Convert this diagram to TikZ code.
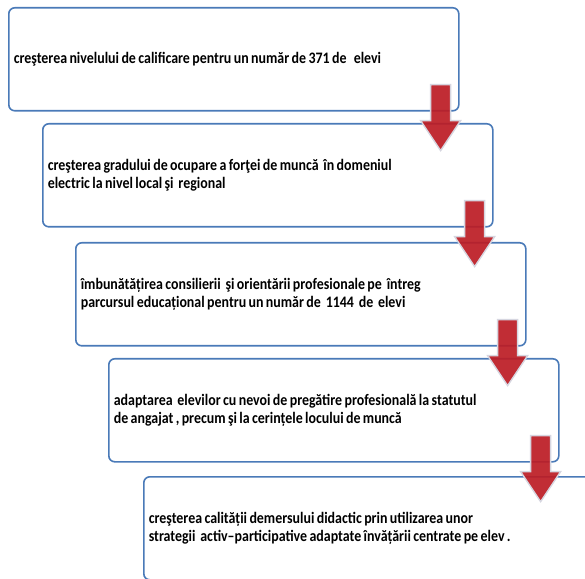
\documentclass[tikz,border=0pt]{standalone}
\usepackage{fontspec}
\setmainfont{Carlito}
\newfontfamily\stepfont[FakeStretch=0.87]{Carlito}
\newcommand{\steptext}{\stepfont\bfseries\fontsize{16}{18}\selectfont}
\newcommand{\tightspaces}{\spaceskip=2.4pt plus 1pt\relax\xspaceskip=2.4pt plus 1pt\relax}
\usepackage{tikz}

\definecolor{boxblue}{RGB}{74,122,184}
\definecolor{arrowred}{RGB}{188,28,36}
\definecolor{arrowrim}{RGB}{214,214,224}

\tikzset{
  stepbox/.style={draw=boxblue, line width=1.6pt, rounded corners=6pt, fill=white,
    anchor=north west, minimum width=450pt, minimum height=103pt,
    text width=440pt, inner xsep=5pt, align=left, font=\steptext,
    execute at begin node=\tightspaces},
  redarrow/.style={fill=arrowred, fill opacity=0.92, draw=arrowrim, line width=1.4pt, line join=miter}
}

\begin{document}
\begin{tikzpicture}[x=1pt, y=1pt]
      \useasboundingbox (0,0) rectangle (585,578);
      \clip (0,0) rectangle (585,578);

      % the five steps
      \node[stepbox] (b1) at (8,571) {creşterea nivelului de calificare pentru un număr de 371 de~~~elevi};
      \node[stepbox] (b2) at (42,455) {creşterea gradului de ocupare a forţei de muncă~ în domeniul\\ electric la nivel local şi~ regional};
      \node[stepbox] (b3) at (75,336) {îmbunătățirea consilierii~ şi orientării profesionale pe~ întreg\\ parcursul educațional pentru un număr de~ 1144~ de~ elevi};
      \node[stepbox] (b4) at (108,220) {adaptarea~ elevilor cu nevoi de pregătire profesională la statutul\\ de angajat , precum şi la cerințele locului de muncă};
      \node[stepbox] (b5) at (143,102) {creşterea calității demersului didactic prin utilizarea unor\\ strategii~ activ–participative adaptate învățării centrate pe elev .};

      % block arrows between the steps
      \foreach \s in {b1,b2,b3,b4}{
        \draw[redarrow] ([shift={(-19,27)}]\s.south east) ++(-10,0) -- ++(0,-36) -- ++(-10,0)
          -- ++(20,-30) -- ++(20,30) -- ++(-10,0) -- ++(0,36) -- cycle;
      }
    \end{tikzpicture}
\end{document}
